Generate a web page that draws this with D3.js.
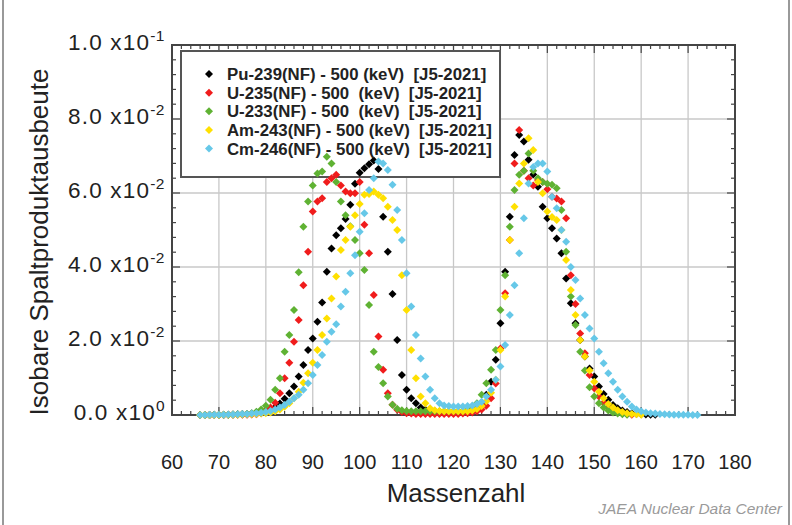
<!DOCTYPE html>
<html><head><meta charset="utf-8">
<script src="https://cdn.jsdelivr.net/npm/d3@7"></script>
<style>body{margin:0;background:#fff}svg{display:block}</style>
</head><body>
<svg id="chart" width="792" height="525"></svg>
<script>
// ---------- data (mass number A starts at 66 for every series) ----------
const massStart = 66;
const seriesNames = [
  "Pu-239(NF) - 500 (keV)  [J5-2021]",
  "U-235(NF) - 500  (keV)  [J5-2021]",
  "U-233(NF) - 500  (keV)  [J5-2021]",
  "Am-243(NF) - 500 (keV)  [J5-2021]",
  "Cm-246(NF) - 500 (keV)  [J5-2021]"
];
const seriesColors = ["#000000", "#f01c1c", "#5fb233", "#ffe000", "#66c8e8"];

const pu239 = [
  0.00001,0.00002,0.00003,0.00004,0.00006,0.00008,0.0001,0.00014,0.00018,0.00024,
  0.0003,0.0004,0.0006,0.0008,0.0011,0.0015,0.0021,0.0031,0.0044,0.0059,
  0.0077,0.0104,0.0135,0.0176,0.0207,0.0252,0.0304,0.0387,0.045,0.0486,
  0.0505,0.053,0.0568,0.0625,0.0655,0.0667,0.0678,0.0688,0.0665,0.0536,
  0.0441,0.0327,0.0203,0.0108,0.0068,0.0045,0.0032,0.002,0.0014,0.0011,
  0.001,0.0009,0.0009,0.0009,0.0009,0.0009,0.001,0.0011,0.0014,0.002,
  0.0033,0.0055,0.009,0.0149,0.0248,0.0387,0.0536,0.0703,0.0757,0.0739,
  0.069,0.065,0.0617,0.0563,0.0532,0.0505,0.0477,0.0437,0.0369,0.0302,
  0.0248,0.0203,0.0158,0.0126,0.0104,0.0077,0.0057,0.0041,0.0027,0.0018,
  0.0012,0.0008,0.0005,0.0003,0.0002,0.00012,0.00008,0.00005
];
const u235 = [
  0.000005,0.00001,0.00001,0.00002,0.00002,0.00003,0.00004,0.00005,0.00006,0.00008,
  0.0001,0.00015,0.0002,0.0005,0.0012,0.002,0.0033,0.0059,0.0099,0.0141,
  0.0198,0.0257,0.0351,0.0441,0.055,0.0577,0.0586,0.063,0.064,0.0649,
  0.062,0.0604,0.0599,0.0599,0.063,0.0514,0.0437,0.0324,0.0212,0.0122,
  0.0059,0.0028,0.0014,0.0008,0.0005,0.0004,0.0003,0.0003,0.0003,0.0003,
  0.0003,0.0003,0.0003,0.0003,0.0003,0.0003,0.0004,0.0005,0.0007,0.001,
  0.0015,0.0025,0.0045,0.0085,0.018,0.0329,0.0473,0.068,0.077,0.066,
  0.064,0.062,0.0635,0.063,0.061,0.059,0.0585,0.0577,0.0532,0.0378,
  0.030,0.022,0.0167,0.0108,0.0072,0.005,0.0033,0.002,0.0012,0.0007,
  0.0004,0.0002,0.0001
];
const u233 = [
  0.00001,0.00002,0.00003,0.00004,0.00005,0.00007,0.0001,0.00013,0.00017,0.00022,
  0.0003,0.0005,0.0009,0.0015,0.0025,0.0041,0.0068,0.0099,0.0171,0.0216,
  0.0284,0.0386,0.0509,0.0577,0.062,0.0653,0.0658,0.0698,0.068,0.063,
  0.0577,0.054,0.051,0.0473,0.0437,0.0392,0.0297,0.0171,0.013,0.0086,
  0.005,0.0028,0.0017,0.0013,0.0011,0.001,0.001,0.001,0.001,0.001,
  0.001,0.001,0.001,0.001,0.001,0.001,0.001,0.0013,0.002,0.0032,
  0.0055,0.0086,0.0122,0.0176,0.0284,0.0378,0.0509,0.0608,0.0649,0.066,
  0.0707,0.066,0.064,0.063,0.0625,0.0622,0.0613,0.0554,0.0441,0.032,
  0.0243,0.0171,0.012,0.0075,0.005,0.0032,0.002,0.0012,0.0007,0.0004,
  0.0002,0.0001
];
const am243 = [
  0.000005,0.00001,0.00001,0.00002,0.00003,0.00004,0.00005,0.00007,0.0001,0.00013,
  0.00017,0.00022,0.0003,0.0004,0.0005,0.0007,0.001,0.0015,0.0022,0.0032,
  0.0045,0.0063,0.0087,0.0113,0.0141,0.0176,0.0216,0.0261,0.0315,0.0374,
  0.0446,0.0473,0.0509,0.054,0.057,0.0595,0.0597,0.0604,0.0595,0.0586,
  0.0563,0.0527,0.05,0.0378,0.0284,0.0176,0.0099,0.005,0.0032,0.0018,
  0.0013,0.0011,0.001,0.001,0.001,0.001,0.001,0.001,0.0012,0.0016,
  0.0024,0.0037,0.006,0.0095,0.0176,0.032,0.0473,0.0563,0.0626,0.068,
  0.0748,0.0716,0.063,0.0599,0.055,0.0535,0.0527,0.05,0.0419,0.0338,
  0.027,0.0203,0.0158,0.012,0.009,0.0063,0.0045,0.003,0.002,0.0013,
  0.0008,0.0005,0.0003,0.0002,0.0001
];
const cm246 = [
  0.00002,0.00003,0.00004,0.00005,0.00007,0.00009,0.00012,0.00015,0.0002,0.00025,
  0.0003,0.0004,0.0005,0.0006,0.0008,0.0011,0.0015,0.002,0.0027,0.0036,
  0.0045,0.0055,0.0068,0.0086,0.0108,0.0135,0.0162,0.0198,0.0225,0.0245,
  0.0293,0.0333,0.0383,0.0432,0.0495,0.0545,0.0608,0.064,0.0685,0.068,
  0.0662,0.0622,0.0554,0.0473,0.0383,0.0293,0.0216,0.0153,0.0104,0.0068,
  0.0045,0.0032,0.0026,0.0024,0.0023,0.0023,0.0023,0.0024,0.0026,0.003,
  0.0036,0.005,0.0068,0.0095,0.0131,0.0189,0.027,0.0351,0.0437,0.0532,
  0.0626,0.067,0.068,0.068,0.0658,0.059,0.0559,0.05,0.0468,0.04,
  0.0365,0.0315,0.027,0.0234,0.0207,0.0171,0.014,0.0113,0.009,0.0068,
  0.005,0.0036,0.0023,0.0015,0.001,0.0007,0.0005,0.0004,0.0003,0.0002,
  0.00015,0.0001,0.00008,0.00006,0.00004,0.00003,0.00002
];
const seriesValues = [pu239, u235, u233, am243, cm246];

const xTicks = [60,70,80,90,100,110,120,130,140,150,160,170,180];
const yTickMantissa = ["0.0","2.0","4.0","6.0","8.0","1.0"];
const yTickExponent = ["0","-2","-2","-2","-2","-1"];
const yTicks = [0,0.02,0.04,0.06,0.08,0.1];

// ---------- layout ----------
const svg = d3.select("#chart");
const L = 172, R = 735, T = 45, B = 415;
const x = d3.scaleLinear().domain([60,180]).range([L,R]);
const y = d3.scaleLinear().domain([0,0.1]).range([B,T]);
const font = "'Liberation Sans', Arial, sans-serif";

// outer picture border
svg.append("line").attr("x1",3).attr("x2",3).attr("y1",0).attr("y2",525).attr("stroke","#777").attr("stroke-width",1.5);
svg.append("line").attr("x1",789).attr("x2",789).attr("y1",0).attr("y2",525).attr("stroke","#777").attr("stroke-width",1.5);

// grid
const grid = svg.append("g").attr("stroke","#c8c8c8").attr("stroke-width",1.3);
grid.selectAll("line.gx").data(xTicks.slice(1,-1)).join("line")
  .attr("x1",d=>x(d)).attr("x2",d=>x(d)).attr("y1",T).attr("y2",B);
grid.selectAll("line.gy").data(yTicks.slice(1,-1)).join("line")
  .attr("x1",L).attr("x2",R).attr("y1",d=>y(d)).attr("y2",d=>y(d));

// ticks on all four sides, pointing inward
const xMinor = d3.range(60,180.001,2);
const yMinor = d3.range(0,0.10001,0.004);
const tk = svg.append("g").attr("stroke","#444").attr("stroke-width",1.2);
xMinor.forEach(v=>{
  const len = (Math.round(v)%10===0)?8:4;
  tk.append("line").attr("x1",x(v)).attr("x2",x(v)).attr("y1",B).attr("y2",B-len);
  tk.append("line").attr("x1",x(v)).attr("x2",x(v)).attr("y1",T).attr("y2",T+len);
});
yMinor.forEach(v=>{
  const major = Math.abs(Math.round(v/0.02)*0.02 - v) < 1e-6;
  const len = major?8:4;
  tk.append("line").attr("y1",y(v)).attr("y2",y(v)).attr("x1",L).attr("x2",L+len);
  tk.append("line").attr("y1",y(v)).attr("y2",y(v)).attr("x1",R).attr("x2",R-len);
});

// frame
svg.append("rect").attr("x",L).attr("y",T).attr("width",R-L).attr("height",B-T)
  .attr("fill","none").attr("stroke","#444").attr("stroke-width",2);

// axis tick labels
svg.append("g").selectAll("text").data(xTicks).join("text")
  .attr("x",d=>x(d)).attr("y",469).attr("text-anchor","middle")
  .attr("font-family",font).attr("font-size",20).attr("fill","#222").text(d=>d);

const yl = svg.append("g").attr("font-family",font).attr("fill","#222");
yTicks.forEach((v,i)=>{
  const t = yl.append("text").attr("x",165).attr("y",y(v)+5).attr("text-anchor","end")
    .attr("font-size",22.5).attr("letter-spacing",1.2);
  t.append("tspan").text(yTickMantissa[i]+" x10");
  t.append("tspan").attr("font-size",15.5).attr("dy",-9).attr("letter-spacing",0.5).text(yTickExponent[i]);
});

// axis titles
svg.append("text").attr("x",456).attr("y",502).attr("text-anchor","middle")
  .attr("font-family",font).attr("font-size",26).attr("fill","#222").text("Massenzahl");
svg.append("text").attr("transform","translate(48,242) rotate(-90)").attr("text-anchor","middle")
  .attr("font-family",font).attr("font-size",26).attr("fill","#222").text("Isobare Spaltproduktausbeute");

// watermark
svg.append("text").attr("x",782).attr("y",514).attr("text-anchor","end")
  .attr("font-family",font).attr("font-style","italic").attr("font-size",15.5).attr("fill","#9a9a9a")
  .text("JAEA Nuclear Data Center");

// legend box
const lg = {x:181, y:51, w:319, h:126};
svg.append("rect").attr("x",lg.x).attr("y",lg.y).attr("width",lg.w).attr("height",lg.h)
  .attr("fill","#fff").attr("stroke","#555").attr("stroke-width",2);

// points
const sym = d3.symbol().type(d3.symbolSquare).size(32);
seriesValues.forEach((vals,si)=>{
  svg.append("g").selectAll("path").data(vals).join("path")
    .attr("d",sym)
    .attr("transform",(d,i)=>`translate(${x(massStart+i)},${y(d)}) rotate(45)`)
    .attr("fill",seriesColors[si]);
});

// legend entries
const rowY = d3.scaleLinear().domain([0,4]).range([74,148.5]);
seriesNames.forEach((n,i)=>{
  svg.append("path").attr("d",sym).attr("transform",`translate(209,${rowY(i)}) rotate(45)`).attr("fill",seriesColors[i]);
  svg.append("text").attr("x",227).attr("y",rowY(i)+6).attr("font-family",font)
    .attr("font-weight","bold").attr("font-size",16.8).attr("fill","#222")
    .attr("xml:space","preserve").style("white-space","pre").text(n);
});
</script>
</body></html>
